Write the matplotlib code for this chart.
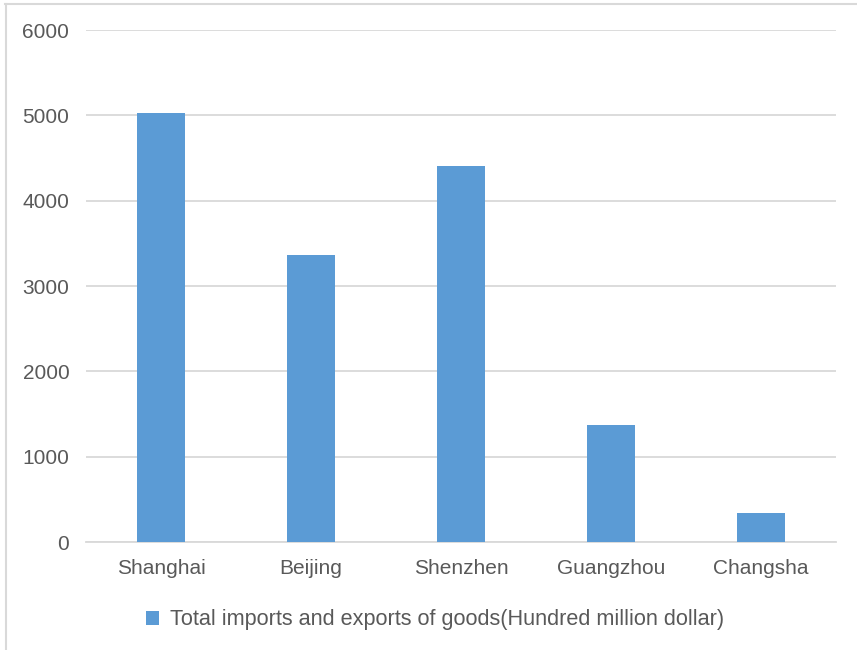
import matplotlib
matplotlib.use("Agg")
import matplotlib.pyplot as plt
from matplotlib.lines import Line2D

categories = ["Shanghai", "Beijing", "Shenzhen", "Guangzhou", "Changsha"]
values = [5030, 3365, 4406, 1371, 340]
yticks = [0, 1000, 2000, 3000, 4000, 5000, 6000]
series_name = "Total imports and exports of goods(Hundred million dollar)"

plt.rcParams['font.family'] = ['Liberation Sans', 'DejaVu Sans']

fig = plt.figure(figsize=(8.57, 6.5), dpi=100)
ax = fig.add_axes([86/857, 1-542/650, (836-86)/857, (542-30)/650])

bar_color = "#5B9BD5"
text_color = "#595959"
grid_color = "#D9D9D9"

x = range(len(categories))
ax.bar(x, values, width=0.315, color=bar_color, label=series_name, zorder=3)

ax.set_xlim(-0.5, len(categories) - 0.5)
ax.set_ylim(0, 6000)
ax.set_yticks(yticks)
ax.set_yticklabels([str(v) for v in yticks])
ax.set_xticks(list(x))
ax.set_xticklabels(categories)
ax.yaxis.grid(True, color=grid_color, linewidth=1.3, zorder=0)
for s in ["top", "right", "left"]:
    ax.spines[s].set_visible(False)
ax.spines["bottom"].set_color(grid_color)
ax.spines["bottom"].set_linewidth(1.3)
ax.tick_params(axis="both", length=0, colors=text_color, labelsize=15)
ax.tick_params(axis="y", pad=12)
ax.tick_params(axis="x", pad=12)

leg = fig.legend(loc="center", bbox_to_anchor=(435/857, 1-620/650), frameon=False,
                 fontsize=15.6, handlelength=0.6, handleheight=0.6, handletextpad=0.5)
for t in leg.get_texts():
    t.set_color(text_color)

# partial outer frame (top and left edges only)
fig.add_artist(Line2D([5/857, 1.0], [1-4/650, 1-4/650], transform=fig.transFigure,
                      color="#D9D9D9", linewidth=1.5))
fig.add_artist(Line2D([6/857, 6/857], [0.0, 1-4/650], transform=fig.transFigure,
                      color="#D9D9D9", linewidth=1.5))

fig.savefig("out.png", dpi=100)
